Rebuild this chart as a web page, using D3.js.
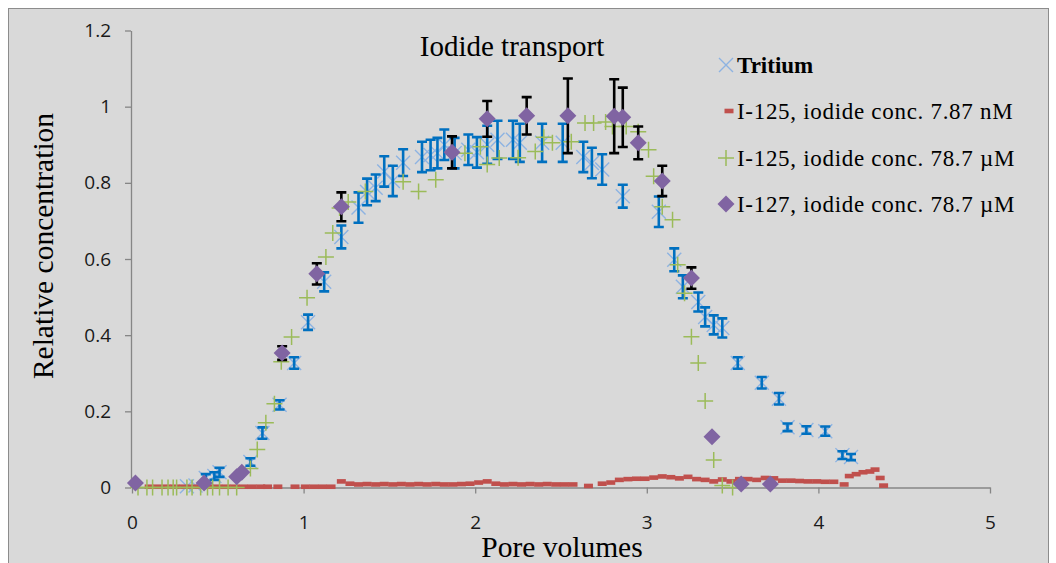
<!DOCTYPE html>
<html><head><meta charset="utf-8">
<script src="https://cdn.jsdelivr.net/npm/d3@7"></script>
<style>
html,body{margin:0;padding:0;background:#fff;}
svg{display:block;}
</style></head>
<body>
<svg id="chart" width="1056" height="563"></svg>
<script>
// ---------- DATA ----------
const chartTitle = "Iodide transport";
const xTitle = "Pore volumes";
const yTitle = "Relative concentration";
const xTicks = [0, 1, 2, 3, 4, 5];
const yTicks = [0, 0.2, 0.4, 0.6, 0.8, 1, 1.2];
const yTickLabels = ["0", "0.2", "0.4", "0.6", "0.8", "1", "1.2"];
const legendLabels = ["Tritium", "I-125, iodide conc. 7.87 nM", "I-125, iodide conc. 78.7 µM", "I-127, iodide conc. 78.7 µM"];

// Tritium
const tritiumX = [0.32,0.37,0.43,0.48,0.51,0.69,0.76,0.86,0.945,1.026,1.12,1.22,1.32,1.37,1.42,1.47,1.52,1.58,1.69,1.74,1.78,1.82,1.88,1.96,2.01,2.07,2.13,2.22,2.26,2.39,2.51,2.63,2.68,2.74,2.86,3.07,3.16,3.21,3.30,3.34,3.39,3.44,3.53,3.67,3.77,3.82,3.93,4.04,4.14,4.19];
const tritiumY = [0.003,0.005,0.025,0.03,0.04,0.067,0.143,0.217,0.327,0.434,0.54,0.658,0.735,0.776,0.787,0.83,0.805,0.853,0.868,0.873,0.878,0.9,0.878,0.887,0.88,0.9,0.913,0.913,0.905,0.905,0.905,0.868,0.852,0.835,0.765,0.724,0.598,0.527,0.487,0.448,0.427,0.419,0.327,0.275,0.233,0.158,0.151,0.148,0.085,0.08];
const tritiumErr = [0,0,0.01,0.01,0.012,0.01,0.015,0.012,0.015,0.02,0.025,0.03,0.04,0.035,0.035,0.04,0.04,0.035,0.04,0.04,0.04,0.04,0.04,0.04,0.04,0.05,0.05,0.05,0.05,0.05,0.05,0.04,0.04,0.04,0.03,0.04,0.03,0.03,0.025,0.025,0.025,0.025,0.015,0.015,0.015,0.01,0.01,0.012,0.01,0.008];

// I-125, 7.87 nM
const i125nmX = [0.10,0.15,0.20,0.25,0.30,0.35,0.40,0.45,0.50,0.55,0.60,0.65,0.70,0.75,0.79,0.85,0.95,1.01,1.06,1.11,1.16,1.22,1.27,1.32,1.37,1.42,1.47,1.52,1.57,1.62,1.67,1.72,1.77,1.82,1.87,1.92,1.97,2.02,2.07,2.12,2.17,2.22,2.27,2.32,2.37,2.42,2.47,2.52,2.57,2.66,2.74,2.79,2.84,2.89,2.94,2.99,3.04,3.09,3.14,3.19,3.24,3.29,3.34,3.39,3.44,3.49,3.54,3.59,3.64,3.69,3.74,3.79,3.84,3.89,3.94,3.99,4.04,4.09,4.15,4.18,4.22,4.26,4.30,4.33,4.36,4.38];
const i125nmY = [0.002,0.002,0.002,0.002,0.002,0.002,0.002,0.002,0.002,0.002,0.002,0.002,0.002,0.002,0.002,0.002,0.002,0.002,0.002,0.002,0.002,0.016,0.010,0.008,0.009,0.008,0.009,0.008,0.009,0.008,0.009,0.008,0.009,0.008,0.008,0.009,0.010,0.013,0.016,0.010,0.008,0.009,0.008,0.009,0.008,0.009,0.008,0.008,0.008,0.004,0.010,0.013,0.020,0.022,0.023,0.023,0.026,0.029,0.027,0.024,0.028,0.022,0.020,0.016,0.021,0.016,0.022,0.022,0.020,0.025,0.024,0.018,0.018,0.017,0.016,0.016,0.015,0.015,0.008,0.030,0.035,0.040,0.042,0.047,0.025,0.005];

// I-125, 78.7 µM
const i125umX = [0.035,0.087,0.12,0.175,0.21,0.24,0.26,0.32,0.35,0.40,0.44,0.47,0.51,0.56,0.61,0.69,0.73,0.78,0.83,0.87,0.93,1.02,1.13,1.17,1.21,1.26,1.36,1.58,1.67,1.77,1.94,2.03,2.07,2.14,2.25,2.35,2.40,2.45,2.56,2.64,2.69,2.76,2.80,2.88,2.95,3.01,3.04,3.09,3.15,3.18,3.22,3.26,3.30,3.34,3.39,3.44,3.50];
const i125umY = [0,0,0,0,0,0,0,0,0,0,0,0,0,0,0,0.05,0.10,0.17,0.22,0.33,0.395,0.498,0.605,0.668,0.734,0.75,0.777,0.803,0.777,0.808,0.878,0.895,0.848,0.865,0.866,0.882,0.92,0.905,0.908,0.957,0.957,0.96,0.948,0.948,0.934,0.887,0.817,0.737,0.703,0.585,0.51,0.396,0.327,0.227,0.072,0.005,0.0];

// I-127, 78.7 µM
const i127X = [0.02,0.42,0.61,0.64,0.875,1.077,1.22,1.865,2.07,2.30,2.54,2.81,2.86,2.95,3.09,3.26,3.38,3.55,3.72];
const i127Y = [0.012,0.012,0.028,0.04,0.353,0.561,0.737,0.88,0.968,0.976,0.976,0.975,0.972,0.905,0.805,0.55,0.133,0.009,0.009];
const i127Err = [0,0,0,0,0.018,0.028,0.038,0.042,0.047,0.049,0.098,0.097,0.078,0.043,0.04,0.028,0,0,0];

// ---------- DRAW ----------
const svg = d3.select("#chart");
const C = {bg:"#d9d9d9", frame:"#8c8c8c", axis:"#868686", blueX:"#8db3e2", blueBar:"#0070c0",
           red:"#c0504d", green:"#9bbb59", purple:"#8064a2", text:"#000"};

svg.append("rect").attr("x",8.5).attr("y",8.5).attr("width",1040).attr("height",620)
  .attr("fill",C.bg).attr("stroke",C.frame).attr("stroke-width",1);

const x = d3.scaleLinear().domain([0,5]).range([132, 990]);
const y = d3.scaleLinear().domain([0,1.2]).range([487.5, 30.5]);

const sansFont = "'Open Sans', 'Liberation Sans', sans-serif";
const serifFont = "'Liberation Serif', 'DejaVu Serif', serif";

// axes
const gx = svg.append("g").attr("transform",`translate(0,${y(0)})`)
  .call(d3.axisBottom(x).tickValues(xTicks).tickFormat(d3.format("d")).tickSize(6).tickSizeOuter(0).tickPadding(22));
const gy = svg.append("g").attr("transform",`translate(${x(0)-1},0)`)
  .call(d3.axisLeft(y).tickValues(yTicks).tickFormat((d,i)=>yTickLabels[i]).tickSize(6).tickSizeOuter(0).tickPadding(14));
[gx,gy].forEach(g=>{
  g.select(".domain").attr("stroke",C.axis).attr("stroke-width",1.3);
  g.selectAll(".tick line").attr("stroke",C.axis).attr("stroke-width",1.3);
  g.selectAll(".tick text").attr("fill","#1a1a1a").style("font-family",sansFont).style("font-size","19px");
});

// titles
svg.append("text").attr("x",512).attr("y",56).attr("text-anchor","middle")
  .style("font-family",serifFont).style("font-size","29px").attr("fill",C.text).text(chartTitle);
svg.append("text").attr("x",562).attr("y",557).attr("text-anchor","middle")
  .style("font-family",serifFont).style("font-size","29.5px").attr("fill",C.text).text(xTitle);
svg.append("text").attr("transform","translate(53,246) rotate(-90)").attr("text-anchor","middle")
  .style("font-family",serifFont).style("font-size","29.5px").attr("fill",C.text).text(yTitle);

// marker helpers
function drawX(g, cx, cy, s){ g.append("path").attr("d",`M${cx-s},${cy-s}L${cx+s},${cy+s}M${cx-s},${cy+s}L${cx+s},${cy-s}`)
  .attr("stroke",C.blueX).attr("stroke-width",1.4).attr("fill","none"); }
function drawPlus(g, cx, cy, s){ g.append("path").attr("d",`M${cx-s},${cy}L${cx+s},${cy}M${cx},${cy-s}L${cx},${cy+s}`)
  .attr("stroke",C.green).attr("stroke-width",1.5).attr("fill","none"); }
function drawDash(g, cx, cy){ g.append("rect").attr("x",cx-4.5).attr("y",cy-2.3).attr("width",9).attr("height",4.6).attr("fill",C.red); }
function drawDiamond(g, cx, cy, s){ g.append("path").attr("d",`M${cx},${cy-s}L${cx+s},${cy}L${cx},${cy+s}L${cx-s},${cy}Z`).attr("fill",C.purple); }
function drawErr(g, cx, cy0, cy1, color){
  g.append("path").attr("d",`M${cx},${cy0}L${cx},${cy1}M${cx-5},${cy0}L${cx+5},${cy0}M${cx-5},${cy1}L${cx+5},${cy1}`)
   .attr("stroke",color).attr("stroke-width",2.6).attr("fill","none");
}

const plot = svg.append("g");
const gT = plot.append("g");
tritiumX.forEach((v,i)=>drawX(gT, x(v), y(tritiumY[i]), 7));
const gTe = plot.append("g");
tritiumX.forEach((v,i)=>{ if(tritiumErr[i]>0) drawErr(gTe, x(v), y(tritiumY[i]+tritiumErr[i]), y(tritiumY[i]-tritiumErr[i]), C.blueBar); });
const gR = plot.append("g");
i125nmX.forEach((v,i)=>drawDash(gR, x(v), y(i125nmY[i])));
const gG = plot.append("g");
i125umX.forEach((v,i)=>drawPlus(gG, x(v), y(i125umY[i]), 8));
const gPe = plot.append("g");
i127X.forEach((v,i)=>{ if(i127Err[i]>0) drawErr(gPe, x(v), y(i127Y[i]+i127Err[i]), y(i127Y[i]-i127Err[i]), "#000"); });
const gP = plot.append("g");
i127X.forEach((v,i)=>drawDiamond(gP, x(v), y(i127Y[i]), 8.5));

// legend
const lg = svg.append("g");
const rowY = [65, 111, 158, 204];
const mx = 726, tx = 737;
drawX(lg, mx, rowY[0], 7);
drawDash(lg, mx+3, rowY[1]);
drawPlus(lg, mx, rowY[2], 8);
drawDiamond(lg, mx, rowY[3], 8.5);
legendLabels.forEach((t,i)=>{
  lg.append("text").attr("x",tx).attr("y",rowY[i]+7.5)
    .style("font-family",serifFont).style("font-size","23px")
    .style("letter-spacing", i===0 ? "0px" : "0.7px")
    .style("font-weight", i===0 ? "bold" : "normal").attr("fill",C.text).text(t);
});
</script>
</body></html>
